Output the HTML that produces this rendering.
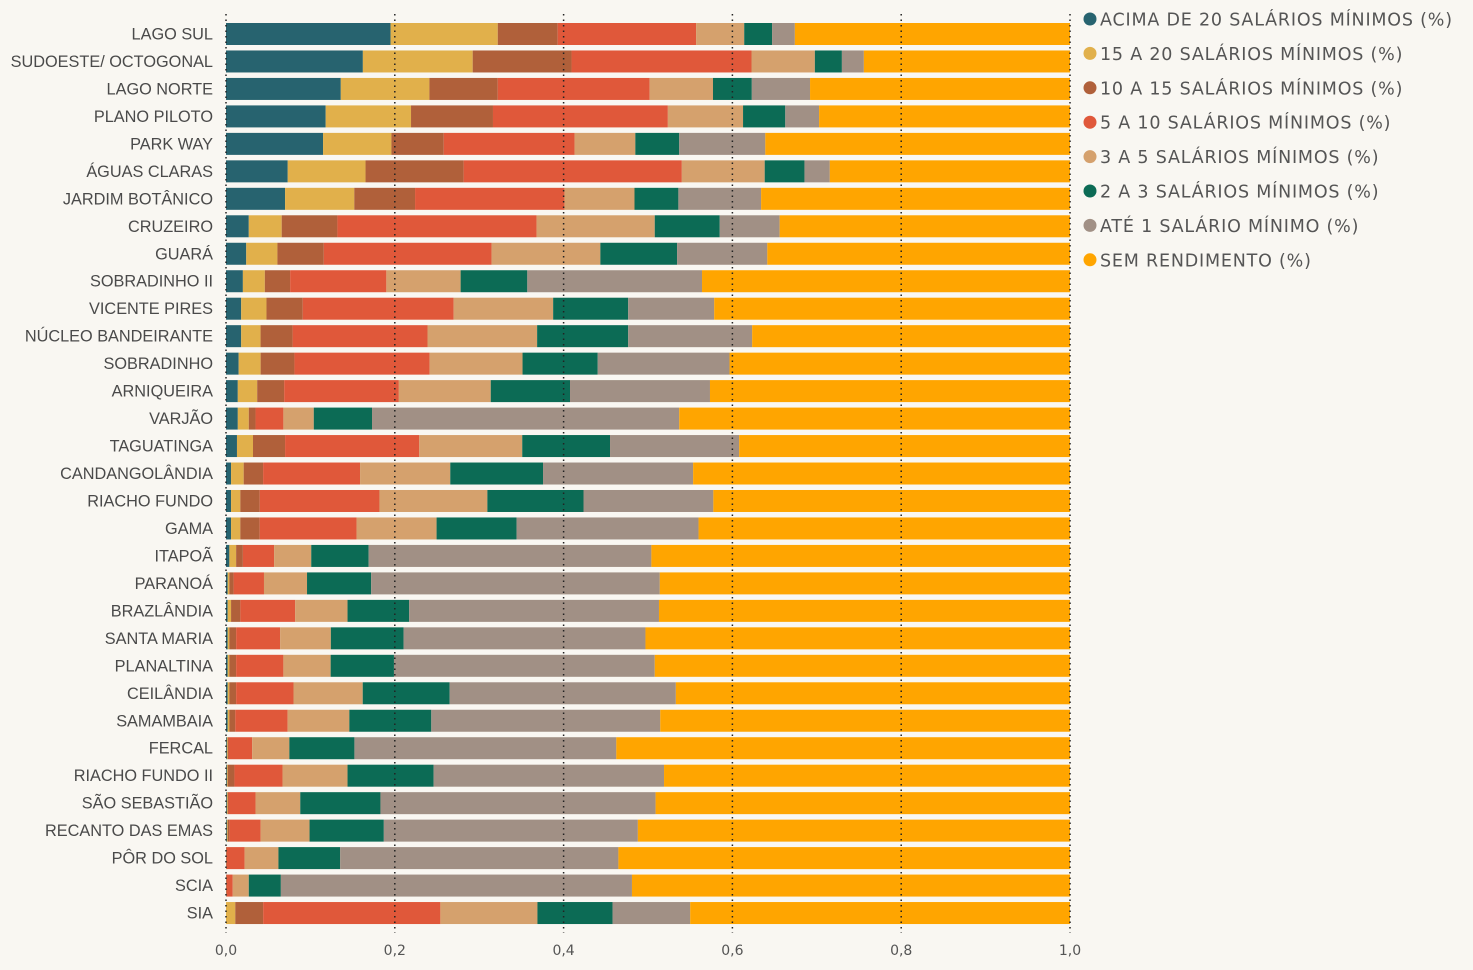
<!DOCTYPE html>
<html><head><meta charset="utf-8"><style>
body{margin:0;background:#f9f7f2;}
svg{display:block;}
</style></head><body>
<svg id="chart" width="1473" height="970" xmlns="http://www.w3.org/2000/svg"></svg>
<script>
const categories=["LAGO SUL","SUDOESTE/ OCTOGONAL","LAGO NORTE","PLANO PILOTO","PARK WAY","ÁGUAS CLARAS","JARDIM BOTÂNICO","CRUZEIRO","GUARÁ","SOBRADINHO II","VICENTE PIRES","NÚCLEO BANDEIRANTE","SOBRADINHO","ARNIQUEIRA","VARJÃO","TAGUATINGA","CANDANGOLÂNDIA","RIACHO FUNDO","GAMA","ITAPOÃ","PARANOÁ","BRAZLÂNDIA","SANTA MARIA","PLANALTINA","CEILÂNDIA","SAMAMBAIA","FERCAL","RIACHO FUNDO II","SÃO SEBASTIÃO","RECANTO DAS EMAS","PÔR DO SOL","SCIA","SIA"];
const seriesNames=["ACIMA DE 20 SALÁRIOS MÍNIMOS (%)","15 A 20 SALÁRIOS MÍNIMOS (%)","10 A 15 SALÁRIOS MÍNIMOS (%)","5 A 10 SALÁRIOS MÍNIMOS (%)","3 A 5 SALÁRIOS MÍNIMOS (%)","2 A 3 SALÁRIOS MÍNIMOS (%)","ATÉ 1 SALÁRIO MÍNIMO (%)","SEM RENDIMENTO (%)"];
const acima20=[19.5,16.2,13.6,11.8,11.5,7.3,7.0,2.7,2.4,2.0,1.8,1.8,1.5,1.4,1.4,1.3,0.6,0.6,0.6,0.4,0.2,0.2,0.2,0.2,0.2,0.2,0.1,0.1,0.1,0.1,0,0,0];
const s15a20=[12.7,13.0,10.5,10.1,8.1,9.2,8.2,3.9,3.7,2.6,3.0,2.3,2.6,2.3,1.3,1.9,1.5,1.1,1.1,0.8,0.2,0.4,0.2,0.2,0.2,0.2,0.1,0.1,0.1,0.1,0,0,1.1];
const s10a15=[7.1,11.7,8.1,9.7,6.2,11.6,7.2,6.6,5.5,3.0,4.3,3.8,4.0,3.2,0.8,3.8,2.3,2.3,2.3,0.8,0.5,1.1,0.8,0.8,0.8,0.7,0.1,0.8,0.1,0.2,0.1,0.1,3.3];
const s5a10=[16.4,21.3,18.0,20.7,15.5,25.8,17.7,23.6,19.9,11.4,17.9,16.0,16.0,13.6,3.3,15.9,11.5,14.2,11.5,3.7,3.6,6.5,5.2,5.6,6.8,6.2,2.8,5.7,3.2,3.7,2.1,0.7,21.0];
const s3a5=[5.7,7.5,7.5,8.9,7.2,9.8,8.3,14.0,12.9,8.8,11.8,13.0,11.0,10.9,3.6,12.2,10.7,12.8,9.5,4.4,5.1,6.2,6.0,5.6,8.2,7.3,4.4,7.7,5.3,5.8,4.0,1.9,11.5];
const s2a3=[3.3,3.2,4.6,5.0,5.2,4.7,5.2,7.7,9.1,7.9,8.9,10.8,8.9,9.4,6.9,10.4,11.0,11.4,9.5,6.8,7.6,7.3,8.6,7.5,10.3,9.7,7.7,10.2,9.5,8.8,7.3,3.8,8.9];
const ate1=[2.7,2.6,6.9,4.0,10.2,3.0,9.8,7.1,10.7,20.7,10.2,14.7,15.6,16.6,36.4,15.3,17.8,15.4,21.6,33.5,34.2,29.6,28.6,30.9,26.8,27.1,31.0,27.3,32.6,30.1,32.9,41.6,9.2];
const semRend=[32.6,24.4,30.8,29.7,36.1,28.4,36.6,34.4,35.9,43.6,42.2,37.7,40.3,42.7,46.3,39.2,44.7,42.3,44.1,49.6,48.6,48.7,50.2,49.2,46.7,48.5,53.7,48.1,49.1,51.2,53.4,51.9,45.0];
const xTicks=[0,0.2,0.4,0.6,0.8,1.0];
const xTickLabels=["0,0","0,2","0,4","0,6","0,8","1,0"];

const series=[acima20,s15a20,s10a15,s5a10,s3a5,s2a3,ate1,semRend];
const colors=["#27636f","#e1b04b","#b0603a","#e0583a","#d5a16d","#0c6b55","#a19085","#ffa500"];
const seriesKeys=["acima-20","15-a-20","10-a-15","5-a-10","3-a-5","2-a-3","ate-1","sem-rendimento"];
const NS="http://www.w3.org/2000/svg";
const svg=document.getElementById('chart');
const X0=226,X1=1070,Y0=34,STEP=27.47,BH=22;
const xs=v=>X0+v*(X1-X0);
const yc=i=>Y0+i*STEP;
function mk(t,a){const e=document.createElementNS(NS,t);for(const k in a)e.setAttribute(k,a[k]);svg.appendChild(e);return e;}
categories.forEach((c,i)=>{
  let tot=0;series.forEach(s=>tot+=s[i]);
  let acc=0;
  series.forEach((s,j)=>{
    const a=acc/tot,b=(acc+s[i])/tot;acc+=s[i];
    if(s[i]<=0)return;
    const r=mk('rect',{x:xs(a),y:yc(i)-BH/2,width:Math.max(0,xs(b)-xs(a)),height:BH,fill:colors[j]});
    
    
  });
  const t=mk('text',{x:213,y:yc(i)+5.5,'text-anchor':'end','font-family':'Liberation Sans, sans-serif','font-size':'16.3',fill:'#4a4a4a'});
  t.textContent=c;
  
  
});
xTicks.forEach((v,k)=>{
  const l=mk('line',{x1:xs(v),x2:xs(v),y1:14,y2:933,stroke:'#222','stroke-width':1.5,'stroke-dasharray':'1.5,4'});
  
  
  const t=mk('text',{x:xs(v),y:955,'text-anchor':'middle','font-family':'DejaVu Sans, sans-serif','font-size':'14',fill:'#555'});
  t.textContent=xTickLabels[k];
  
  
});
seriesNames.forEach((n,j)=>{
  const y=19+j*34.4;
  const c=mk('circle',{cx:1090,cy:y,r:6.5,fill:colors[j]});
  
  
  const t=mk('text',{x:1100,y:y+6.5,'font-family':'DejaVu Sans, sans-serif','font-size':'17.5','letter-spacing':'0.8',fill:'#555'});
  t.textContent=n;
  
  
});
</script>
</body></html>
